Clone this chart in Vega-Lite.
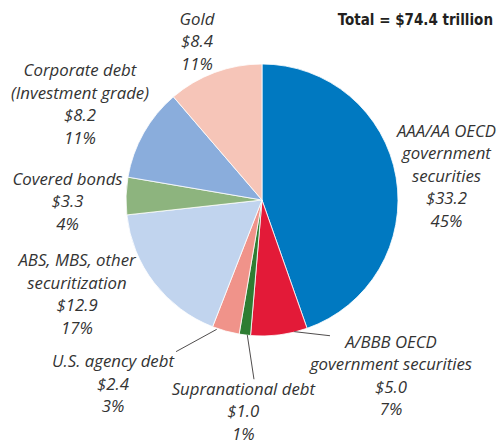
{
  "$schema": "https://vega.github.io/schema/vega-lite/v6.json",
  "width": 480,
  "height": 340,
  "autosize": {"type": "none"},
  "padding": {"left": 22, "top": 30, "right": 0, "bottom": 74},
  "background": "white",
  "title": {"text": "Total = $74.4 trillion", "anchor": "end", "frame": "group", "font": "Liberation Sans Narrow, DejaVu Sans Condensed, sans-serif", "fontSize": 15, "fontWeight": "bold", "color": "#231f20", "dx": -9, "offset": -40},
  "config": {"view": {"stroke": null}},
  "datasets": {
    "slices": [
      {"idx": 1, "name": "AAA/AA OECD government securities", "value": 33.2, "label": ["AAA/AA OECD", "government", "securities", "$33.2", "45%"]},
      {"idx": 2, "name": "A/BBB OECD government securities", "value": 5.0, "label": ["A/BBB OECD", "government securities", "$5.0", "7%"]},
      {"idx": 3, "name": "Supranational debt", "value": 1.0, "label": ["Supranational debt", "$1.0", "1%"]},
      {"idx": 4, "name": "U.S. agency debt", "value": 2.4, "label": ["U.S. agency debt", "$2.4", "3%"]},
      {"idx": 5, "name": "ABS, MBS, other securitization", "value": 12.9, "label": ["ABS, MBS, other", "securitization", "$12.9", "17%"]},
      {"idx": 6, "name": "Covered bonds", "value": 3.3, "label": ["Covered bonds", "$3.3", "4%"]},
      {"idx": 7, "name": "Corporate debt (Investment grade)", "value": 8.2, "label": ["Corporate debt", "(Investment grade)", "$8.2", "11%"]},
      {"idx": 8, "name": "Gold", "value": 8.4, "label": ["Gold", "$8.4", "11%"]}
    ],
    "leaders": [
      {"name": "U.S. agency debt", "x0": -0.333, "y0": -0.951, "x1": -0.632, "y1": -1.115},
      {"name": "Supranational debt", "x0": -0.108, "y0": -0.993, "x1": -0.059, "y1": -1.318},
      {"name": "A/BBB OECD government securities", "x0": 0.2375, "y0": -0.968, "x1": 0.5, "y1": -0.998}
    ]
  },
  "layer": [
    {
      "data": {"name": "slices"},
      "mark": {"type": "arc", "radius": 136, "stroke": "white", "strokeWidth": 0.8},
      "encoding": {
        "theta": {"field": "value", "type": "quantitative", "stack": true},
        "order": {"field": "idx", "type": "quantitative"},
        "color": {"field": "name", "type": "nominal", "legend": null,
          "scale": {"domain": ["AAA/AA OECD government securities", "A/BBB OECD government securities", "Supranational debt", "U.S. agency debt", "ABS, MBS, other securitization", "Covered bonds", "Corporate debt (Investment grade)", "Gold"],
                    "range": ["#0079c1", "#e31a38", "#2e7d32", "#f0938a", "#c1d4ee", "#8db47e", "#8aaddc", "#f6c5b8"]}}
      }
    },
    {
      "data": {"name": "slices"},
      "mark": {"type": "text", "radius": 170, "dx": 16.9, "dy": -39.7, "font": "Open Sans", "fontStyle": "italic", "fontSize": 16.8, "lineHeight": 22.5, "fill": "#333333", "align": "center", "baseline": "middle"},
      "encoding": {"theta": {"field": "value", "type": "quantitative", "stack": true}, "order": {"field": "idx", "type": "quantitative"}, "text": {"condition": {"test": "datum.idx === 1", "field": "label"}, "value": ""}}
    },
    {
      "data": {"name": "slices"},
      "mark": {"type": "text", "radius": 170, "dx": 107.5, "dy": -25.65, "font": "Open Sans", "fontStyle": "italic", "fontSize": 16.8, "lineHeight": 22.5, "fill": "#333333", "align": "center", "baseline": "middle"},
      "encoding": {"theta": {"field": "value", "type": "quantitative", "stack": true}, "order": {"field": "idx", "type": "quantitative"}, "text": {"condition": {"test": "datum.idx === 2", "field": "label"}, "value": ""}}
    },
    {
      "data": {"name": "slices"},
      "mark": {"type": "text", "radius": 170, "dx": 2.8, "dy": 21.1, "font": "Open Sans", "fontStyle": "italic", "fontSize": 16.8, "lineHeight": 22.5, "fill": "#333333", "align": "center", "baseline": "middle"},
      "encoding": {"theta": {"field": "value", "type": "quantitative", "stack": true}, "order": {"field": "idx", "type": "quantitative"}, "text": {"condition": {"test": "datum.idx === 3", "field": "label"}, "value": ""}}
    },
    {
      "data": {"name": "slices"},
      "mark": {"type": "text", "radius": 170, "dx": -103.6, "dy": -1.4, "font": "Open Sans", "fontStyle": "italic", "fontSize": 16.8, "lineHeight": 22.5, "fill": "#333333", "align": "center", "baseline": "middle"},
      "encoding": {"theta": {"field": "value", "type": "quantitative", "stack": true}, "order": {"field": "idx", "type": "quantitative"}, "text": {"condition": {"test": "datum.idx === 4", "field": "label"}, "value": ""}}
    },
    {
      "data": {"name": "slices"},
      "mark": {"type": "text", "radius": 170, "dx": -50.1, "dy": -42.35, "font": "Open Sans", "fontStyle": "italic", "fontSize": 16.8, "lineHeight": 22.5, "fill": "#333333", "align": "center", "baseline": "middle"},
      "encoding": {"theta": {"field": "value", "type": "quantitative", "stack": true}, "order": {"field": "idx", "type": "quantitative"}, "text": {"condition": {"test": "datum.idx === 5", "field": "label"}, "value": ""}}
    },
    {
      "data": {"name": "slices"},
      "mark": {"type": "text", "radius": 170, "dx": -24.6, "dy": -15, "font": "Open Sans", "fontStyle": "italic", "fontSize": 16.8, "lineHeight": 22.5, "fill": "#333333", "align": "center", "baseline": "middle"},
      "encoding": {"theta": {"field": "value", "type": "quantitative", "stack": true}, "order": {"field": "idx", "type": "quantitative"}, "text": {"condition": {"test": "datum.idx === 6", "field": "label"}, "value": ""}}
    },
    {
      "data": {"name": "slices"},
      "mark": {"type": "text", "radius": 170, "dx": -34.1, "dy": -45.05, "font": "Open Sans", "fontStyle": "italic", "fontSize": 16.8, "lineHeight": 22.5, "fill": "#333333", "align": "center", "baseline": "middle"},
      "encoding": {"theta": {"field": "value", "type": "quantitative", "stack": true}, "order": {"field": "idx", "type": "quantitative"}, "text": {"condition": {"test": "datum.idx === 7", "field": "label"}, "value": ""}}
    },
    {
      "data": {"name": "slices"},
      "mark": {"type": "text", "radius": 170, "dx": -6, "dy": -20.6, "font": "Open Sans", "fontStyle": "italic", "fontSize": 16.8, "lineHeight": 22.5, "fill": "#333333", "align": "center", "baseline": "middle"},
      "encoding": {"theta": {"field": "value", "type": "quantitative", "stack": true}, "order": {"field": "idx", "type": "quantitative"}, "text": {"condition": {"test": "datum.idx === 8", "field": "label"}, "value": ""}}
    },
    {
      "data": {"name": "leaders"},
      "mark": {"type": "rule", "stroke": "#231f20", "strokeWidth": 0.8},
      "encoding": {
        "x": {"field": "x0", "type": "quantitative", "axis": null, "scale": {"domain": [-1.76471, 1.76471], "nice": false, "zero": false}},
        "y": {"field": "y0", "type": "quantitative", "axis": null, "scale": {"domain": [-1.25, 1.25], "nice": false, "zero": false}},
        "x2": {"field": "x1"},
        "y2": {"field": "y1"}
      }
    }
  ]
}
